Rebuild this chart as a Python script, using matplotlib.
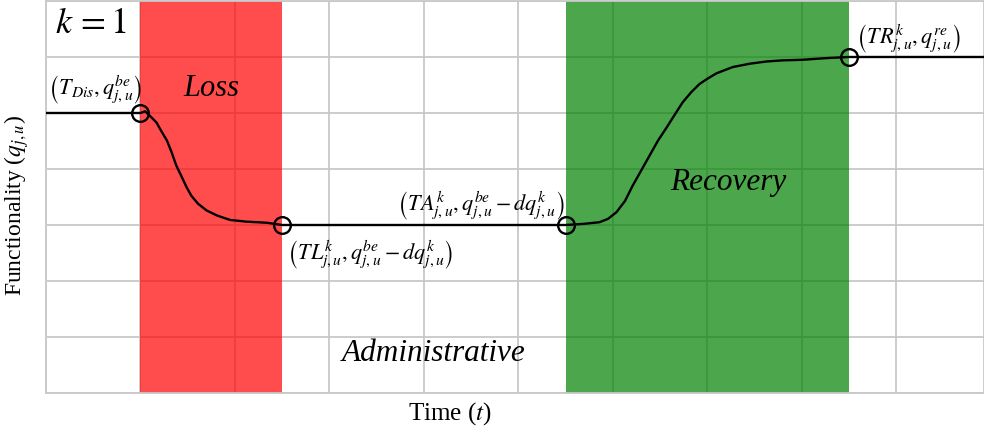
import numpy as np
import matplotlib.pyplot as plt

plt.rcParams['mathtext.fontset'] = 'stix'
plt.rcParams['font.family'] = ['Liberation Serif', 'DejaVu Serif']

# Functionality curve (time, functionality)
time_pts = [0.0, 1.0, 1.05, 1.10, 1.17, 1.22, 1.28, 1.33, 1.38, 1.44, 1.49, 1.54, 1.61,
            1.70, 1.81, 1.95, 2.12, 2.34, 2.5,
            5.5, 5.69, 5.86, 5.95, 6.04, 6.13, 6.21, 6.30, 6.39, 6.48, 6.57, 6.66,
            6.74, 6.83, 6.92, 7.01, 7.10, 7.27, 7.45, 7.63, 7.80, 8.01, 8.26, 8.5, 9.93]
func_pts = [5.0, 5.0, 5.03, 4.95, 4.83, 4.68, 4.51, 4.30, 4.06, 3.85, 3.67, 3.52, 3.38,
            3.26, 3.17, 3.09, 3.06, 3.04, 3.0,
            3.0, 3.02, 3.05, 3.11, 3.23, 3.43, 3.70, 3.97, 4.24, 4.51, 4.74, 4.98,
            5.19, 5.37, 5.52, 5.62, 5.71, 5.82, 5.88, 5.92, 5.94, 5.95, 5.98, 6.0, 6.0]

# Key state points
key_t = [1.0, 2.5, 5.5, 8.5]
key_q = [5.0, 3.0, 3.0, 6.0]

# Phases
loss_span = (1.0, 2.5)
recovery_span = (5.5, 8.5)

fig = plt.figure(figsize=(9.84, 4.31), dpi=100)
ax = fig.add_axes([0.0467, 0.0858, 0.9533, 0.9096])

ax.set_xlim(0, 9.93)
ax.set_ylim(0, 7)
ax.set_xticks(np.arange(0, 10))
ax.set_yticks(np.arange(0, 8))
ax.tick_params(length=0, labelbottom=False, labelleft=False)
ax.grid(True, color='#c8c8c8', linewidth=1.3)
ax.set_axisbelow(True)
for s in ax.spines.values():
    s.set_color('#c8c8c8')
    s.set_linewidth(1.3)

ax.axvspan(*loss_span, color='#ff0000', alpha=0.7, lw=0, zorder=1)
ax.axvspan(*recovery_span, color='#008000', alpha=0.7, lw=0, zorder=1)

ax.plot(time_pts, func_pts, color='black', lw=1.7, zorder=3)
ax.plot(key_t, key_q, 'o', mfc='none', mec='black', ms=12, mew=1.7, zorder=4)

ax.text(0.1, 6.6, r'$k\,=1$', fontsize=26, va='center', ha='left')
ax.text(1.75, 5.46, 'Loss', fontsize=22, style='italic', ha='center', va='center')
ax.text(7.22, 3.77, 'Recovery', fontsize=22.5, style='italic', ha='center', va='center')
ax.text(4.1, 0.73, 'Administrative', fontsize=22.5, style='italic', ha='center', va='center')

ax.text(1.02, 5.14, r'$\left(T_{Dis},q_{j,u}^{be}\right)$', fontsize=16, ha='right', va='bottom')
ax.text(2.55, 2.78, r'$\left(TL_{j,u}^{k},q_{j,u}^{be}-dq_{j,u}^{k}\right)$', fontsize=16,
        ha='left', va='top')
ax.text(5.49, 3.07, r'$\left(TA_{j,u}^{k},q_{j,u}^{be}-dq_{j,u}^{k}\right)$', fontsize=16,
        ha='right', va='bottom')
ax.text(8.58, 6.05, r'$\left(TR_{j,u}^{k},q_{j,u}^{re}\right)$', fontsize=16,
        ha='left', va='bottom')

ax.set_xlabel(r'Time ($t$)', fontsize=18)
ax.xaxis.set_label_coords(0.43, -0.015, transform=ax.transAxes)
ax.xaxis.label.set_va('top')
ax.set_ylabel(r'Functionality ($q_{j,u}$)', fontsize=17)
ax.yaxis.set_label_coords(-0.016, 0.48)

fig.savefig('out.png', dpi=100)
